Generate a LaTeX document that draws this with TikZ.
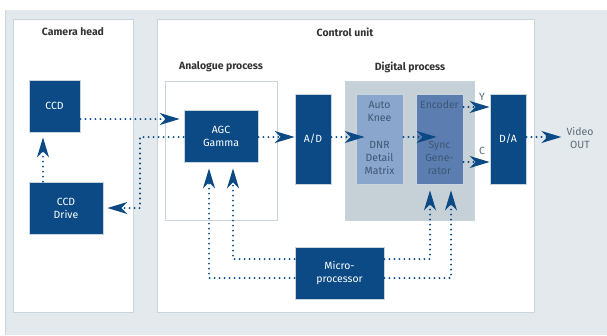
\documentclass[tikz,border=0pt]{standalone}
\usepackage{fontspec}
\setmainfont{Fira Sans}
\usepackage{tikz}
\usetikzlibrary{arrows.meta}

\definecolor{panel}{HTML}{E3E9EC}
\definecolor{rim}{HTML}{C9D5DC}
\definecolor{navy}{HTML}{0B4A85}
\definecolor{digibg}{HTML}{C6D0D7}
\definecolor{kneeblue}{HTML}{8AA6CC}
\definecolor{encblue}{HTML}{5B7DB0}
\definecolor{softtext}{HTML}{3E5676}
\definecolor{greytext}{HTML}{5D6B78}
\definecolor{titletext}{HTML}{333333}

\begin{document}
\begin{tikzpicture}[
  x=1bp, y=-1bp,
  frame/.style={draw=rim, line width=1bp, fill=white},
  title/.style={font=\bfseries\fontsize{10.5}{12}\selectfont, text=titletext},
  block/.style={draw=rim, line width=0.8bp, fill=navy, text=white, align=center,
    font=\fontsize{10.5}{13}\selectfont, inner sep=0pt},
  subblock/.style={draw=rim, line width=0.8bp, inner sep=0pt},
  subtext/.style={text=softtext, align=center, font=\fontsize{10.5}{13}\selectfont, inner sep=0pt},
  small/.style={text=greytext, font=\fontsize{10.5}{13}\selectfont, inner sep=0pt, align=center},
  sig/.style={navy, line width=2.2bp, line cap=round, dash pattern=on 0bp off 5bp,
    -{Stealth[length=20bp, width=12bp, inset=6bp]}},
  gap/.style={shorten >=#1}
]
\useasboundingbox (0,0) rectangle (607,335);
% background panels
\fill[panel] (5,10) rectangle (607,335);
\draw[rim, line width=1.2bp] (5.6,10) -- (5.6,335);
\draw[frame] (13,19) rectangle (133,312);
\draw[frame] (157,19) rectangle (534,312);
\draw[frame] (165,81) rectangle (277,220);
\draw[frame, fill=digibg] (345,81) rectangle (474,220);

\node[title] (camtitle) at (73,32) {Camera head};
\node[title] (ctrltitle) at (345,32) {Control unit};
\node[title] (anatitle) at (221,67) {Analogue process};
\node[title] (digititle) at (410,67) {Digital process};

% blocks
\node[block, minimum width=51bp, minimum height=52bp] (ccd) at (54.5,106) {CCD};
\node[block, minimum width=74bp, minimum height=52bp] (ccddrive) at (66,208) {CCD\\Drive};
\node[block, minimum width=74bp, minimum height=52bp] (agc) at (221,136) {AGC\\Gamma};
\node[block, minimum width=36bp, minimum height=90bp] (ad) at (313,139) {A/D};
\node[subblock, fill=kneeblue, minimum width=47bp, minimum height=90bp] (knee) at (379.5,139) {};
\node[subblock, fill=encblue, minimum width=47bp, minimum height=90bp] (enc) at (439.5,139) {};
\node[block, minimum width=36bp, minimum height=90bp] (da) at (508,139) {D/A};
\node[block, minimum width=89bp, minimum height=52bp] (micro) at (339.5,273) {Micro-\\processor};

\node[subtext] (kneetop) at (379.5,111.5) {Auto\\Knee};
\node[subtext] (kneebot) at (379.5,158) {DNR\\Detail\\Matrix};
\node[subtext] (enctop) at (439.5,105) {Encoder};
\node[subtext] (encbot) at (439.5,158) {Sync\\Gene-\\rator};

\node[small] (ylab) at (482,97) {Y};
\node[small] (clab) at (482,151) {C};
\node[small] (vout) at (580,138) {Video\\OUT};

% signal paths
\draw[sig, gap=4bp] (ccd.east |- 0,119) -- (agc.west |- 0,119);
\draw[sig, gap=4bp] (agc.west |- 0,137) -| (140,208) -- (ccddrive.east);
\draw[sig, gap=5bp] (ccddrive.north -| 43,0) -- (ccd.south -| 43,0);
\draw[sig] (agc.east |- 0,137) -- (ad.west |- 0,137);
\draw[sig, gap=-9bp] (ad.east |- 0,137) -- (knee.west |- 0,137);
\draw[sig, gap=-21bp] (knee.east |- 0,137) -- (enc.west |- 0,137);
\draw[sig] (enc.east |- 0,107) -- (da.west |- 0,107);
\draw[sig] (enc.east |- 0,162) -- (da.west |- 0,162);
\draw[sig, gap=5bp] (da.east |- 0,137) -- (vout.west |- 0,137);
\draw[sig, gap=6bp] (micro.west |- 0,278) -| ([xshift=-12bp]agc.south);
\draw[sig, gap=6bp] (micro.west |- 0,259) -| ([xshift=12bp]agc.south);
\draw[sig, gap=6bp] (micro.east |- 0,259) -| ([xshift=-9.5bp]enc.south);
\draw[sig, gap=6bp] (micro.east |- 0,278) -| ([xshift=11.5bp]enc.south);
\end{tikzpicture}
\end{document}
